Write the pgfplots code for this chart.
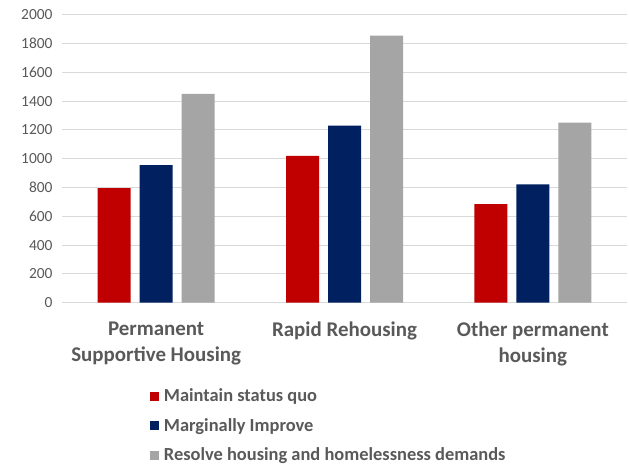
\documentclass[border=0pt]{standalone}
\usepackage{pgfplots}
\pgfplotsset{compat=1.18}
\usepackage{fontspec}
\setmainfont{Carlito}
\definecolor{cred}{HTML}{C00000}
\definecolor{cblue}{HTML}{002060}
\definecolor{cgray}{HTML}{A5A5A5}
\definecolor{ctext}{HTML}{595959}
\definecolor{cgrid}{HTML}{D9D9D9}
\begin{document}
\begin{tikzpicture}
\useasboundingbox (0,0) rectangle (629bp,465bp);
\begin{axis}[
  at={(62bp,162.3bp)}, anchor=south west,
  scale only axis, width=565bp, height=288bp,
  xmin=-0.5, xmax=2.5, ymin=0, ymax=2000,
  ytick={0,200,...,2000},
  xtick={0,1,2},
  xticklabels={{Permanent\\Supportive Housing},{Rapid Rehousing},{Other permanent\\housing}},
  ybar=9bp, bar width=33bp,
  axis line style={draw=none},
  major tick length=0pt,
  ymajorgrids, grid style={cgrid, line width=1bp},
  /pgf/number format/assume math mode=true,
  /pgf/number format/1000 sep={},
  yticklabel style={font=\fontsize{15.5}{18}\selectfont, text=ctext, xshift=-6bp},
  xticklabel style={font=\fontsize{21}{26}\selectfont\bfseries, text=ctext, align=center, yshift=-16bp},
  legend cell align=left,
  legend style={at={(0.15,-0.285)}, anchor=north west, draw=none, fill=none,
    font=\fontsize{18.5}{22}\selectfont\bfseries, text=ctext, row sep=11bp,
    /tikz/every odd column/.append style={column sep=3bp}},
  legend image code/.code={\fill[#1] (0bp,-4.5bp) rectangle (9bp,4.5bp);},
]
\addplot[fill=cred, draw=none] coordinates {(0,795) (1,1020) (2,685)};
\addplot[fill=cblue, draw=none] coordinates {(0,955) (1,1230) (2,822)};
\addplot[fill=cgray, draw=none] coordinates {(0,1450) (1,1855) (2,1250)};
\legend{Maintain status quo, Marginally Improve, Resolve housing and homelessness demands}
\end{axis}
\end{tikzpicture}
\end{document}
